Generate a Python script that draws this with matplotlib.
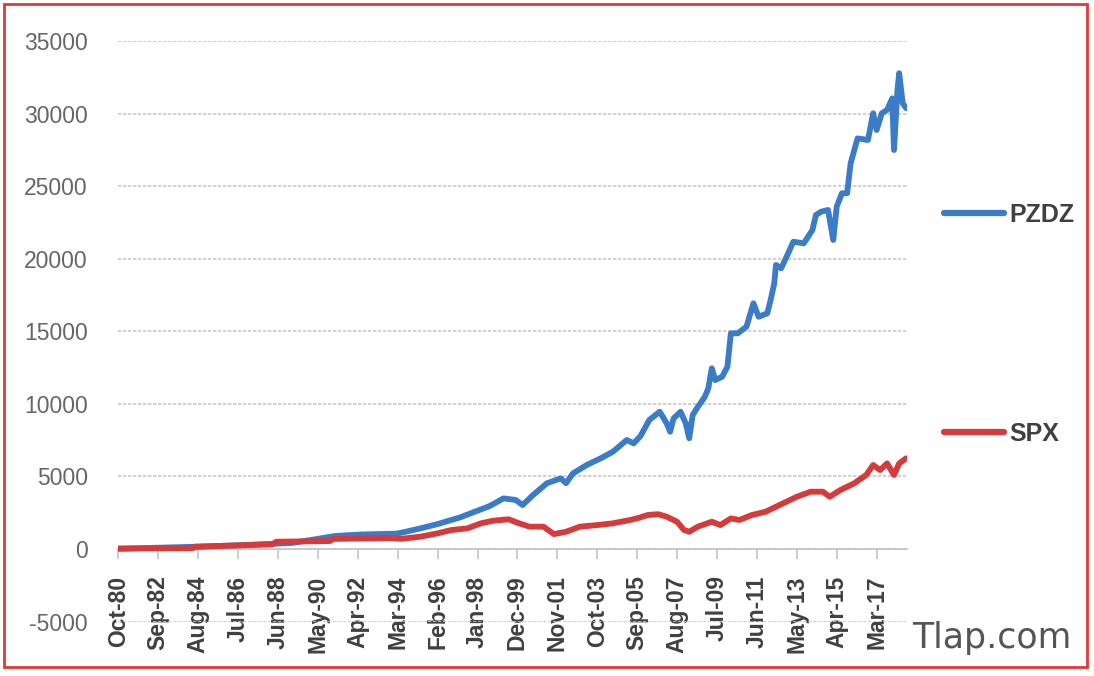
import matplotlib
matplotlib.use("Agg")
import matplotlib.pyplot as plt
from matplotlib.patches import Rectangle

plt.rcParams["axes.unicode_minus"] = False

# months counted from Oct-80 (index 0)
pzdz_month = [0, 46, 74, 100, 115, 125, 140, 160, 163, 174, 184, 197, 207, 214,
              222, 229, 233, 239, 247, 255, 258, 262, 270, 278, 285, 293, 297,
              301, 306, 312, 316, 318, 320, 324, 327, 329, 331, 334, 338, 340,
              342, 344, 348, 351, 353, 357, 362, 366, 369, 374, 376, 378, 379,
              382, 386, 389, 395, 400, 402, 405, 409, 412, 414, 417, 420, 422,
              426, 432, 435, 437, 440, 443, 446, 447, 449, 450, 452, 454]
pzdz_value = [20, 160, 280, 420, 700, 900, 1000, 1060, 1120, 1420, 1720, 2180,
              2640, 2960, 3490, 3380, 3030, 3720, 4530, 4870, 4530, 5210, 5790,
              6250, 6700, 7510, 7280, 7800, 8890, 9460, 8660, 8080, 9000, 9460,
              8660, 7630, 9230, 9800, 10490, 11070, 12450, 11640, 11870, 12560,
              14860, 14860, 15320, 16930, 16000, 16240, 17200, 18300, 19570,
              19340, 20370, 21170, 21060, 21980, 23010, 23240, 23360, 21290,
              23590, 24510, 24510, 26570, 28290, 28180, 30020, 28870, 30020,
              30250, 31050, 27490, 31620, 32780, 30710, 30370]

spx_month = [0, 43, 44, 70, 89, 91, 122, 124, 158, 163, 174, 184, 192, 201,
             209, 216, 225, 230, 237, 245, 251, 258, 266, 276, 285, 295, 300,
             305, 311, 316, 322, 326, 329, 334, 342, 347, 353, 358, 365, 373,
             381, 391, 399, 406, 410, 416, 424, 431, 435, 439, 443, 447, 450,
             454]
spx_value = [30, 60, 160, 250, 330, 500, 550, 700, 750, 700, 850, 1080, 1310,
             1420, 1770, 1950, 2050, 1810, 1540, 1540, 1030, 1190, 1540, 1650,
             1770, 2000, 2150, 2340, 2400, 2230, 1880, 1310, 1190, 1540, 1880,
             1650, 2110, 2000, 2340, 2570, 3030, 3600, 3950, 3950, 3600, 4060,
             4520, 5100, 5790, 5440, 5900, 5100, 5900, 6250]

tick_labels = ["Oct-80", "Sep-82", "Aug-84", "Jul-86", "Jun-88", "May-90",
               "Apr-92", "Mar-94", "Feb-96", "Jan-98", "Dec-99", "Nov-01",
               "Oct-03", "Sep-05", "Aug-07", "Jul-09", "Jun-11", "May-13",
               "Apr-15", "Mar-17"]

W, H = 1094, 676
fig = plt.figure(figsize=(W / 100, H / 100), dpi=100)
ax = fig.add_axes([118.3 / W, 1 - 621.6 / H, (907 - 118.3) / W, (621.6 - 41) / H])

blue = "#3A7CC8"
red = "#D63A3A"
l1, = ax.plot(pzdz_month, pzdz_value, color=blue, lw=4.2, zorder=3,
              solid_joinstyle="round", solid_capstyle="round")
l2, = ax.plot(spx_month, spx_value, color=red, lw=4.2, zorder=3,
              solid_joinstyle="round", solid_capstyle="round")

ax.set_xlim(0, 454.5)
ax.set_ylim(-5000, 35000)
ax.set_yticks(range(-5000, 35001, 5000))
ax.yaxis.grid(True, linestyle=(0, (2, 1)), color="#c8c8c8", linewidth=1.2)
ax.set_axisbelow(True)

for s in ["top", "right", "left"]:
    ax.spines[s].set_visible(False)
ax.spines["bottom"].set_position(("data", 0))
ax.spines["bottom"].set_color("#c4c4c4")
ax.spines["bottom"].set_linewidth(1.2)

ax.set_xticks([23 * i for i in range(len(tick_labels))])
ax.set_xticklabels(tick_labels, rotation=90, fontweight="bold", fontsize=16.5,
                   color="#404040", family="Liberation Sans")
ax.tick_params(axis="x", direction="out", length=7, width=1.2, color="#c4c4c4", pad=12)
ax.tick_params(axis="y", length=0, pad=22, labelsize=16.5, labelcolor="#666666")
for t in ax.get_yticklabels():
    t.set_family("Liberation Sans")

leg_kw = dict(frameon=False, handlelength=2.4, handletextpad=0.2,
              prop={"family": "Liberation Sans", "weight": "bold", "size": 18},
              labelcolor="#404040", borderaxespad=0)
leg1 = fig.legend([l1], ["PZDZ"], loc="center left",
                  bbox_to_anchor=(934 / W, 1 - 215 / H), **leg_kw)
leg2 = fig.legend([l2], ["SPX"], loc="center left",
                  bbox_to_anchor=(934 / W, 1 - 434 / H), **leg_kw)
for lg in (leg1, leg2):
    for h in lg.legend_handles:
        h.set_linewidth(4.5)

fig.text(912 / W, 1 - 638 / H, "Tlap.com", fontsize=25, color="#555555",
         va="center", ha="left", family="DejaVu Sans")

fig.patches.append(Rectangle((4 / W, 1 - 667 / H), 1083 / W, 663 / H,
                             transform=fig.transFigure, fill=False,
                             edgecolor="#E53935", linewidth=2))

fig.savefig("out.png", dpi=100)
